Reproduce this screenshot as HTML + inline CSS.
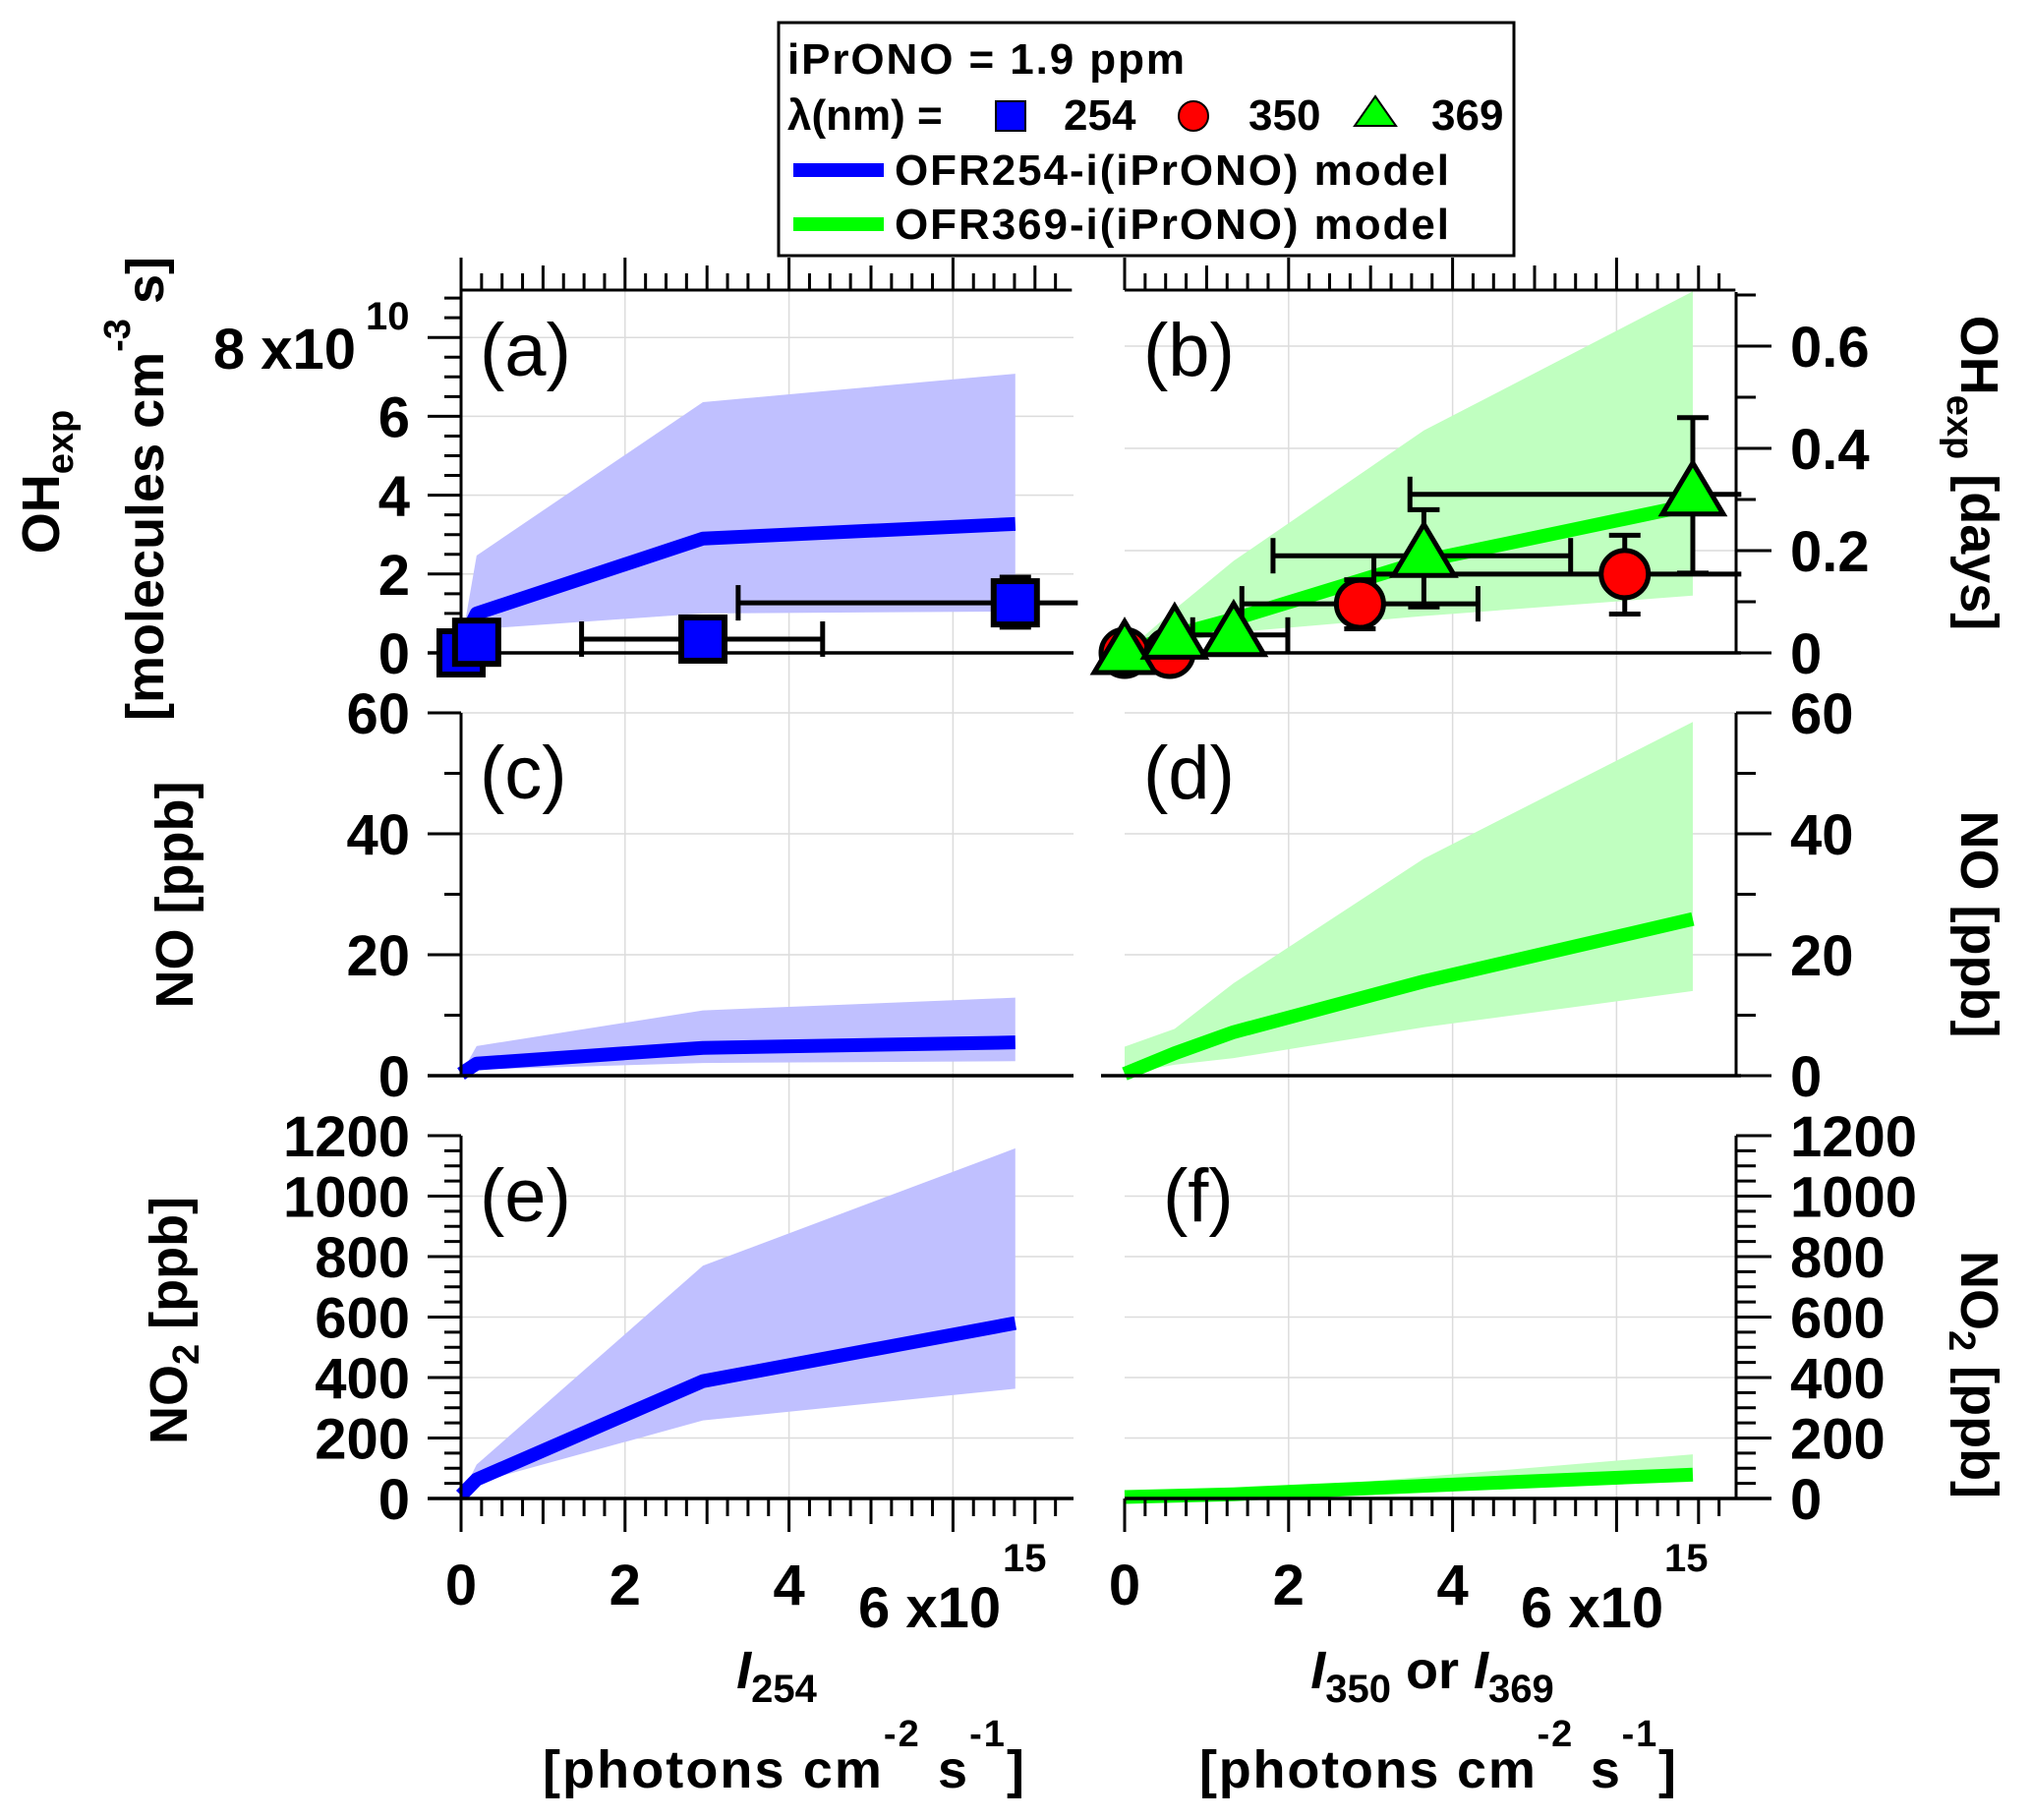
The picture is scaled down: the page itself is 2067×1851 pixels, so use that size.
<!DOCTYPE html>
<html><head><meta charset="utf-8"><style>
html,body{margin:0;padding:0;background:#fff;}
svg{display:block;font-family:"Liberation Sans",Arial,sans-serif;}
.tk{font-weight:bold;font-size:58px;}
.ttl{font-weight:bold;font-size:54px;}
.lg{font-weight:bold;font-size:44px;}
.pl{font-size:76px;}
</style></head><body>
<svg id="chart" width="2067" height="1851" viewBox="0 0 2067 1851" xmlns="http://www.w3.org/2000/svg">
<g id="grid"></g>
<g id="bands"></g>
<g id="lines"></g>
<g id="axes"></g>
<g id="errs"></g>
<g id="marks"></g>
<g id="labels"></g>

<text class="pl" x="488" y="382">(a)</text>
<text class="pl" x="1163" y="382">(b)</text>
<text class="pl" x="488" y="812">(c)</text>
<text class="pl" x="1163" y="812">(d)</text>
<text class="pl" x="488" y="1242">(e)</text>
<text class="pl" x="1183" y="1242">(f)</text>

<text class="ttl" transform="translate(60,490) rotate(-90)" text-anchor="middle">OH<tspan font-size="38" dy="14">exp</tspan></text>
<text class="ttl" transform="translate(166,497) rotate(-90)" text-anchor="middle">[molecules cm<tspan font-size="38" dy="-34">-3</tspan><tspan dy="34"> s]</tspan></text>
<text class="ttl" transform="translate(196,910) rotate(-90)" text-anchor="middle">NO [ppb]</text>
<text class="ttl" transform="translate(190,1343) rotate(-90)" text-anchor="middle">NO<tspan font-size="38" dy="12">2</tspan><tspan dy="-12"> [ppb]</tspan></text>

<text class="ttl" transform="translate(1995,481) rotate(90)" text-anchor="middle">OH<tspan font-size="38" dy="14">exp</tspan><tspan dy="-14"> [days]</tspan></text>
<text class="ttl" transform="translate(1995,940) rotate(90)" text-anchor="middle">NO [ppb]</text>
<text class="ttl" transform="translate(1995,1398) rotate(90)" text-anchor="middle">NO<tspan font-size="38" dy="12">2</tspan><tspan dy="-12"> [ppb]</tspan></text>

<text class="ttl" x="790" y="1717" text-anchor="middle"><tspan font-style="italic">I</tspan><tspan font-size="40" dy="14">254</tspan></text>
<text class="ttl" x="552" y="1818" textLength="490">[photons cm<tspan font-size="38" dy="-42">-2</tspan><tspan dy="42"> s</tspan><tspan font-size="38" dy="-42">-1</tspan><tspan dy="42">]</tspan></text>
<text class="ttl" x="1457" y="1717" text-anchor="middle"><tspan font-style="italic">I</tspan><tspan font-size="40" dy="14">350</tspan><tspan dy="-14"> or </tspan><tspan font-style="italic">I</tspan><tspan font-size="40" dy="14">369</tspan></text>
<text class="ttl" x="1220" y="1818" textLength="485">[photons cm<tspan font-size="38" dy="-42">-2</tspan><tspan dy="42"> s</tspan><tspan font-size="38" dy="-42">-1</tspan><tspan dy="42">]</tspan></text>

<g>
<rect x="792" y="23" width="748" height="237" fill="#fff" stroke="#000" stroke-width="3"/>
<text class="lg" x="801" y="75" textLength="404">iPrONO = 1.9 ppm</text>
<text class="lg" x="801" y="132">λ(nm) =</text>
<rect x="1013" y="103" width="30" height="30" fill="#0000ff" stroke="#000" stroke-width="2"/>
<text class="lg" x="1082" y="132">254</text>
<circle cx="1214" cy="118" r="15" fill="#ff0000" stroke="#000" stroke-width="2"/>
<text class="lg" x="1270" y="132">350</text>
<polygon points="1399,98 1420,128 1378,128" fill="#00ff00" stroke="#000" stroke-width="2"/>
<text class="lg" x="1456" y="132">369</text>
<rect x="807" y="166" width="92" height="14" fill="#0000ff"/>
<text class="lg" x="910" y="188" textLength="564">OFR254-i(iPrONO) model</text>
<rect x="807" y="221" width="92" height="14" fill="#00ff00"/>
<text class="lg" x="910" y="243" textLength="564">OFR369-i(iPrONO) model</text>
</g>
</svg>
<script>
const xModel254 = [0, 0.19, 2.95, 6.76];
const ohMean254 = [0.2, 1.0, 2.9, 3.27];
const ohUp254 = [0.2, 2.47, 6.36, 7.08];
const ohLo254 = [0.2, 0.6, 1.0, 1.05];
const noMean254 = [0.3, 2.0, 4.6, 5.5];
const noUp254 = [0.3, 4.9, 10.8, 12.9];
const noLo254 = [0.3, 1.0, 2.1, 2.4];
const no2Mean254 = [10, 63, 388, 580];
const no2Up254 = [10, 112, 770, 1158];
const no2Lo254 = [10, 52, 258, 363];

const xModel369 = [0, 0.61, 1.33, 3.65, 6.93];
const ohMean369 = [0, 0.035, 0.066, 0.18, 0.29];
const ohUp369 = [0, 0.085, 0.18, 0.435, 0.707];
const ohLo369 = [0, 0.02, 0.04, 0.072, 0.112];
const noMean369 = [0.3, 3.7, 7.2, 15.6, 25.9];
const noUp369 = [4.8, 7.75, 15.3, 35.9, 58.5];
const noLo369 = [0.3, 1.8, 2.9, 8.0, 14.0];
const no2Mean369 = [5, 9, 14, 42, 79];
const no2Up369 = [5, 12, 20, 72, 146];
const no2Lo369 = [5, 7, 11, 30, 55];

const sqX = [0, 0.19, 2.95, 6.76];
const sqY = [0, 0.27, 0.35, 1.27];
const sqXLo = [null, null, 1.47, 3.38];
const sqXHi = [null, null, 4.41, 9];
const sqYLo = [null, null, null, 0.65];
const sqYHi = [null, null, null, 1.92];

const ciX = [0, 0.55, 2.87, 6.1];
const ciY = [0, 0, 0.096, 0.154];
const ciXLo = [null, null, 1.43, 3.04];
const ciXHi = [null, null, 4.31, 9];
const ciYLo = [null, null, 0.047, 0.076];
const ciYHi = [null, null, 0.143, 0.23];

const trX = [0, 0.61, 1.33, 3.65, 6.93];
const trY = [0, 0.03, 0.035, 0.19, 0.31];
const trXLo = [null, null, 0.83, 1.81, 3.48];
const trXHi = [null, null, 1.99, 5.44, 9];
const trYLo = [null, null, null, 0.09, 0.156];
const trYHi = [null, null, null, 0.28, 0.46];

const ohTicks = [0, 2, 4, 6];
const daysTicks = ['0', '0.2', '0.4', '0.6'];
const noTicks = [0, 20, 40, 60];
const no2Ticks = [0, 200, 400, 600, 800, 1000, 1200];
const xTicks = [0, 2, 4];

const NS = 'http://www.w3.org/2000/svg';
const XMAX = 7.45;
const xL = v => 469 + v * 83.4;
const xR = v => 1144 + v * 83.4;
const yOH = v => 664 - v * 40.1;
const yDays = v => 664 - v * 520;
const yNO = v => 1094 - v * 6.15;
const yNO2 = v => 1524 - v * 0.3075;
const clampX = v => Math.max(0, Math.min(XMAX, v));

function mk(tag, attrs, parent) {
  const e = document.createElementNS(NS, tag);
  for (const k in attrs) e.setAttribute(k, attrs[k]);
  document.getElementById(parent).appendChild(e);
  return e;
}
function ln(x1, y1, x2, y2, w, parent, col) {
  const e = mk('line', {x1, y1, x2, y2, stroke: col || '#000', 'stroke-width': w}, parent);
  
  
  return e;
}
function txt(s, x, y, anchor, cls) {
  const e = mk('text', {x, y, 'text-anchor': anchor, class: cls || 'tk'}, 'labels');
  e.textContent = s;
  
  
  return e;
}

[2, 4, 6].forEach(v => {
  [xL(v), xR(v)].forEach(px => {
    const g = ln(px, 295, px, 1524, 1.5, 'grid', '#dcdcdc');
    
  });
});
[2, 4, 6, 8].forEach(v => { const g = ln(469, yOH(v), 1092, yOH(v), 1.5, 'grid', '#dcdcdc');  });
[0.2, 0.4, 0.6].forEach(v => { const g = ln(1144, yDays(v), 1766, yDays(v), 1.5, 'grid', '#dcdcdc');  });
[20, 40, 60].forEach(v => {
  let g = ln(469, yNO(v), 1092, yNO(v), 1.5, 'grid', '#dcdcdc'); 
  g = ln(1144, yNO(v), 1766, yNO(v), 1.5, 'grid', '#dcdcdc'); 
});
[200, 400, 600, 800, 1000].forEach(v => {
  let g = ln(469, yNO2(v), 1092, yNO2(v), 1.5, 'grid', '#dcdcdc'); 
  g = ln(1144, yNO2(v), 1766, yNO2(v), 1.5, 'grid', '#dcdcdc'); 
});

function band(xs, lo, hi, xf, yf, col, name) {
  const pts = xs.map((x, i) => xf(x) + ',' + yf(hi[i])).concat(xs.map((x, i) => xf(x) + ',' + yf(lo[i])).reverse());
  const p = mk('polygon', {points: pts.join(' '), fill: col}, 'bands');
  
  
}
function line(xs, ys, xf, yf, col, name) {
  const p = mk('polyline', {points: xs.map((x, i) => xf(x) + ',' + yf(ys[i])).join(' '), fill: 'none', stroke: col, 'stroke-width': 14, 'stroke-linejoin': 'round'}, 'lines');
  
  
}
const BLUEB = '#c0c0ff', GREENB = '#c0ffc0';
band(xModel254, ohLo254, ohUp254, xL, yOH, BLUEB, 'band-oh-254');
band(xModel369, ohLo369, ohUp369, xR, yDays, GREENB, 'band-oh-369');
band(xModel254, noLo254, noUp254, xL, yNO, BLUEB, 'band-no-254');
band(xModel369, noLo369, noUp369, xR, yNO, GREENB, 'band-no-369');
band(xModel254, no2Lo254, no2Up254, xL, yNO2, BLUEB, 'band-no2-254');
band(xModel369, no2Lo369, no2Up369, xR, yNO2, GREENB, 'band-no2-369');
line(xModel254, ohMean254, xL, yOH, '#0000ff', 'line-oh-254');
line(xModel369, ohMean369, xR, yDays, '#00ff00', 'line-oh-369');
line(xModel254, noMean254, xL, yNO, '#0000ff', 'line-no-254');
line(xModel369, noMean369, xR, yNO, '#00ff00', 'line-no-369');
line(xModel254, no2Mean254, xL, yNO2, '#0000ff', 'line-no2-254');
line(xModel369, no2Mean369, xR, yNO2, '#00ff00', 'line-no2-369');

ln(469, 295, 469, 670, 3, 'axes');
ln(435, yOH(0), 1092, yOH(0), 3.5, 'axes');
for (let v = 0; v <= 9.2; v += 0.5) {
  const major = Math.abs(v % 2) < 1e-6;
  ln(major ? 435 : 452, yOH(v), 469, yOH(v), 3, 'axes');
}
function topAxis(xf, x0) {
  ln(x0, 295, x0 + XMAX * 83.4, 295, 3, 'axes');
  for (let i = 0; i <= XMAX * 4; i++) {
    const v = i / 4;
    const len = (i % 8 === 0) ? 33 : (i % 4 === 0 ? 25 : 17);
    ln(xf(v), 295, xf(v), 295 - len, 3, 'axes');
  }
}
topAxis(xL, 469);
topAxis(xR, 1144);
ln(1766, 297, 1766, 664, 3, 'axes');
ln(1144, yDays(0), 1771, yDays(0), 3.5, 'axes');
for (let i = 0; i <= 7; i++) {
  ln(1766, yDays(i / 10), 1766 + (i % 2 === 0 ? 36 : 20), yDays(i / 10), 3, 'axes');
}
ln(469, 725, 469, 1094, 3, 'axes');
ln(435, yNO(0), 1092, yNO(0), 3.5, 'axes');
for (let v = 0; v <= 60; v += 10) ln(v % 20 === 0 ? 435 : 452, yNO(v), 469, yNO(v), 3, 'axes');
ln(1766, 725, 1766, 1094, 3, 'axes');
ln(1120, yNO(0), 1771, yNO(0), 3.5, 'axes');
for (let v = 0; v <= 60; v += 10) ln(1766, yNO(v), 1766 + (v % 20 === 0 ? 36 : 20), yNO(v), 3, 'axes');
ln(469, 1155, 469, 1558, 3, 'axes');
ln(435, yNO2(0), 1092, yNO2(0), 3.5, 'axes');
for (let v = 0; v <= 1200; v += 50) ln(v % 200 === 0 ? 435 : 452, yNO2(v), 469, yNO2(v), 3, 'axes');
ln(1766, 1155, 1766, 1524, 3, 'axes');
ln(1144, yNO2(0), 1802, yNO2(0), 3.5, 'axes');
for (let v = 0; v <= 1200; v += 50) ln(1766, yNO2(v), 1766 + (v % 200 === 0 ? 36 : 20), yNO2(v), 3, 'axes');
function bottomTicks(xf) {
  for (let i = 0; i <= XMAX * 4; i++) {
    const v = i / 4;
    const len = (i % 8 === 0) ? 34 : (i % 4 === 0 ? 26 : 18);
    ln(xf(v), 1524, xf(v), 1524 + len, 3, 'axes');
  }
}
bottomTicks(xL);
bottomTicks(xR);

ohTicks.forEach(v => txt(String(v), 417, yOH(v) + 21, 'end'));
let t = txt('8 x10', 362, 375, 'end');
t = txt('10', 372, 335, 'start'); t.setAttribute('style', 'font-size:40px');
daysTicks.forEach(s => txt(s, 1821, yDays(parseFloat(s)) + 21, 'start'));
noTicks.forEach(v => { txt(String(v), 417, yNO(v) + 21, 'end'); txt(String(v), 1821, yNO(v) + 21, 'start'); });
no2Ticks.forEach(v => { txt(String(v), 417, yNO2(v) + 21, 'end'); txt(String(v), 1821, yNO2(v) + 21, 'start'); });
xTicks.forEach(v => { txt(String(v), xL(v), 1632, 'middle'); txt(String(v), xR(v), 1632, 'middle'); });
txt('6 x10', 873, 1655, 'start');
t = txt('15', 1020, 1598, 'start'); t.setAttribute('style', 'font-size:40px');
txt('6 x10', 1547, 1655, 'start');
t = txt('15', 1693, 1598, 'start'); t.setAttribute('style', 'font-size:40px');

function errs(xs, ys, xlo, xhi, ylo, yhi, xf, yf, name) {
  xs.forEach((x, i) => {
    const cy = yf(ys[i]), cx = xf(x);
    if (xlo[i] !== null) {
      const a = clampX(xlo[i]), b = clampX(xhi[i]);
      let e = ln(xf(a), cy, xf(b) + (xhi[i] > XMAX ? 6 : 0), cy, 5, 'errs'); 
      if (xlo[i] >= 0) { e = ln(xf(a), cy - 18, xf(a), cy + 18, 5, 'errs');  }
      if (xhi[i] <= XMAX) { e = ln(xf(b), cy - 18, xf(b), cy + 18, 5, 'errs');  }
    }
    if (ylo[i] !== null) {
      let e = ln(cx, yf(ylo[i]), cx, yf(yhi[i]), 5, 'errs'); 
      e = ln(cx - 16, yf(ylo[i]), cx + 16, yf(ylo[i]), 5, 'errs'); 
      e = ln(cx - 16, yf(yhi[i]), cx + 16, yf(yhi[i]), 5, 'errs'); 
    }
  });
}
errs(sqX, sqY, sqXLo, sqXHi, sqYLo, sqYHi, xL, yOH, 'square-254');
errs(ciX, ciY, ciXLo, ciXHi, ciYLo, ciYHi, xR, yDays, 'circle-350');
errs(trX, trY, trXLo, trXHi, trYLo, trYHi, xR, yDays, 'triangle-369');

sqX.forEach((x, i) => {
  const cx = xL(x), cy = yOH(sqY[i]);
  const r = mk('rect', {x: cx - 22, y: cy - 22, width: 44, height: 44, fill: '#0000ff', stroke: '#000', 'stroke-width': 6}, 'marks');
  
  
});
ciX.forEach((x, i) => {
  const c = mk('circle', {cx: xR(x), cy: yDays(ciY[i]), r: 24, fill: '#ff0000', stroke: '#000', 'stroke-width': 5}, 'marks');
  
  
});
trX.forEach((x, i) => {
  const cx = xR(x), cy = yDays(trY[i]);
  const p = mk('polygon', {points: `${cx},${cy - 32} ${cx + 31},${cy + 20} ${cx - 31},${cy + 20}`, fill: '#00ff00', stroke: '#000', 'stroke-width': 5, 'stroke-linejoin': 'miter'}, 'marks');
  
  
});
</script>
</body></html>
